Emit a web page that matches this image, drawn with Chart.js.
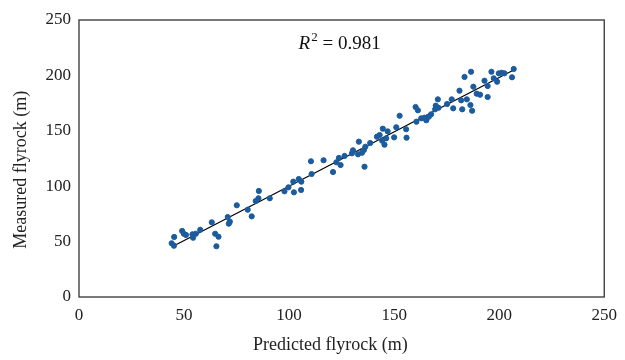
<!DOCTYPE html>
<html>
<head>
<meta charset="utf-8">
<script src="https://cdn.jsdelivr.net/npm/chart.js@4"></script>
<style>
  html, body { margin: 0; padding: 0; background: #fff; }
  #wrap { width: 625px; height: 360px; }
</style>
</head>
<body>
<div id="wrap"><canvas id="chart"></canvas></div>
<script>
// predicted vs measured flyrock (m)
const predicted = [44.1, 45.2, 45.3, 49.1, 49.9, 50.9, 54.0, 54.3, 55.6, 57.7,
  63.2, 64.8, 66.4, 65.4, 70.8, 71.8, 71.3, 75.1, 80.3, 82.2, 84.1, 85.4,
  85.6, 90.8, 97.8, 99.7, 102.0, 102.3, 104.6, 105.8, 105.7, 110.4, 110.7,
  116.4, 120.9, 123.7, 122.5, 124.5, 126.4, 129.9, 130.4, 132.8, 133.2,
  134.7, 135.6, 135.9, 136.3, 138.6, 141.8, 143.1, 144.3, 144.6, 145.4,
  146.2, 146.9, 150.0, 151.0, 152.6, 155.7, 155.9, 160.2, 161.3, 160.6,
  162.9, 164.4, 165.3, 166.5, 167.6, 169.5, 169.8, 170.8, 171.1, 175.2,
  177.4, 178.1, 181.1, 181.9, 183.5, 186.6, 187.7, 189.3, 190.9, 193.0,
  194.5, 194.5, 196.3, 197.4, 199.0, 199.8, 201.2, 202.5, 206.1, 206.9,
  184.6, 186.3, 187.1, 182.4];
const measured = [48.5, 46.3, 54.2, 59.6, 57.1, 56.0, 56.6, 53.5, 57.1, 60.7,
  67.4, 57.1, 54.4, 45.8, 72.2, 68.0, 66.2, 82.8, 78.8, 72.8, 86.6, 89.1,
  95.7, 89.1, 95.4, 99.0, 104.1, 94.5, 106.5, 104.1, 96.6, 122.5, 111.0,
  123.4, 112.8, 125.5, 121.6, 119.1, 127.3, 129.7, 132.4, 128.8, 140.2,
  130.2, 132.7, 117.6, 135.6, 139.0, 144.7, 146.2, 141.1, 151.9, 137.5,
  143.2, 149.5, 144.1, 153.2, 163.6, 151.4, 143.8, 171.5, 168.5, 158.2,
  161.3, 161.8, 159.5, 162.7, 164.9, 169.4, 172.7, 178.4, 170.8, 174.2,
  178.4, 170.3, 186.2, 177.5, 198.6, 203.3, 189.8, 183.5, 182.6, 195.2,
  190.4, 180.5, 203.3, 197.4, 194.3, 201.9, 202.4, 201.9, 198.3, 205.8,
  178.4, 173.3, 168.1, 169.4];

// fitted line end points
const fitX = [44.3, 206.9];
const fitY = [45.4, 204.9];

const axisTicks = [0, 50, 100, 150, 200, 250];
const r2Label = '0.981';

const serif = "'Liberation Serif', 'DejaVu Serif', serif";
const pad = '\u00a0'.repeat(5); // titles sit a bit toward the origin in the original

const points = predicted.map((x, i) => ({ x: x, y: measured[i] }));
const fitLine = fitX.map((x, i) => ({ x: x, y: fitY[i] }));

// box round the plot area + R² annotation
const boxPlugin = {
  id: 'box',
  afterDraw(chart) {
    const { ctx, chartArea: a, scales } = chart;
    ctx.save();
    ctx.strokeStyle = '#333';
    ctx.lineWidth = 1.3;
    ctx.strokeRect(a.left, a.top, a.right - a.left, a.bottom - a.top);

    // R² = 0.981
    const px = scales.x.getPixelForValue(104.5);
    const py = scales.y.getPixelForValue(228);
    ctx.fillStyle = '#111';
    ctx.textBaseline = 'middle';
    ctx.font = 'italic 19px ' + serif;
    ctx.fillText('R', px, py);
    let w = ctx.measureText('R').width;
    ctx.font = '13px ' + serif;
    ctx.fillText('2', px + w + 1, py - 7);
    w += ctx.measureText('2').width + 1;
    ctx.font = '19px ' + serif;
    ctx.fillText(' = ' + r2Label, px + w, py);
    ctx.restore();
  }
};

new Chart(document.getElementById('chart'), {
  type: 'scatter',
  data: {
    datasets: [
      {
        label: 'Measured',
        data: points,
        backgroundColor: '#1b5c9e',
        borderColor: '#1b5c9e',
        pointRadius: 2.6,
        pointHoverRadius: 2.6
      },
      {
        label: 'Fit',
        type: 'line',
        data: fitLine,
        borderColor: '#000',
        borderWidth: 1.2,
        pointRadius: 0,
        fill: false
      }
    ]
  },
  options: {
    responsive: true,
    maintainAspectRatio: false,
    animation: false,
    layout: { padding: { top: 20, right: 20, left: 0, bottom: 0 } },
    plugins: {
      legend: { display: false },
      tooltip: { enabled: false }
    },
    scales: {
      x: {
        type: 'linear',
        min: 0, max: 250,
        afterBuildTicks: (s) => { s.ticks = axisTicks.map(v => ({ value: v })); },
        afterFit: (s) => { s.height = 63; },
        grid: { display: false, drawTicks: false },
        border: { display: false },
        ticks: { color: '#222', padding: 8, font: { family: serif, size: 17 } },
        title: {
          display: true,
          text: 'Predicted flyrock (m)' + pad,
          color: '#222',
          padding: { top: 6 },
          font: { family: serif, size: 18 }
        }
      },
      y: {
        type: 'linear',
        min: 0, max: 250,
        afterBuildTicks: (s) => { s.ticks = axisTicks.map(v => ({ value: v })); },
        afterFit: (s) => { s.width = 79; },
        grid: { display: false, drawTicks: false },
        border: { display: false },
        ticks: { color: '#222', padding: 8, font: { family: serif, size: 17 } },
        title: {
          display: true,
          text: 'Measured flyrock (m)' + pad,
          color: '#222',
          padding: { bottom: 0, top: 10 },
          font: { family: serif, size: 18 }
        }
      }
    }
  },
  plugins: [boxPlugin]
});
</script>
</body>
</html>
